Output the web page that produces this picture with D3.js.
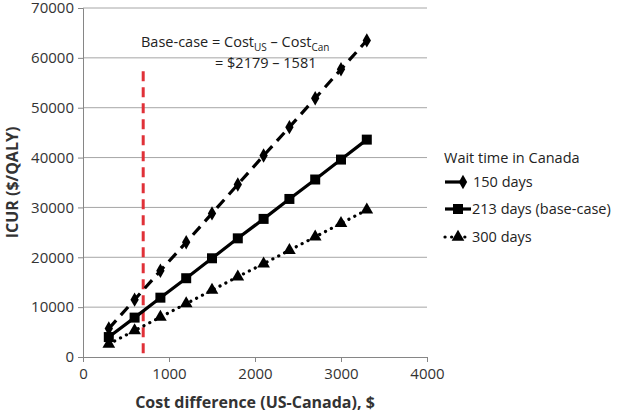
<!DOCTYPE html>
<html>
<head>
<meta charset="utf-8">
<script src="https://cdn.jsdelivr.net/npm/d3@7"></script>
<style>
  body { margin: 0; background: #fff; }
  svg { font-family: "Open Sans", sans-serif; }
</style>
</head>
<body>
<svg id="chart" width="618" height="415"></svg>
<script>
const costDiff = [300, 600, 900, 1200, 1500, 1800, 2100, 2400, 2700, 3000, 3300];
const wait150 = [5700, 11500, 17300, 23000, 28800, 34600, 40400, 46100, 51900, 57700, 63500];
const wait213 = [4000, 7900, 11900, 15800, 19800, 23800, 27700, 31700, 35600, 39600, 43600];
const wait300 = [2600, 5300, 8000, 10700, 13400, 16100, 18700, 21400, 24100, 26800, 29500];
const seriesNames = ["150 days", "213 days (base-case)", "300 days"];
const xTicks = [0, 1000, 2000, 3000, 4000];
const yTicks = [0, 10000, 20000, 30000, 40000, 50000, 60000, 70000];
const baseCaseX = 700;
const baseCaseTop = 57300;

const svg = d3.select("#chart");
const x = d3.scaleLinear().domain([0, 4000]).range([83, 427]);
const y = d3.scaleLinear().domain([0, 70000]).range([357, 8]);

// gridlines
svg.append("g").selectAll("line").data(yTicks.slice(1)).join("line")
  .attr("x1", x(0)).attr("x2", x(4000))
  .attr("y1", d => y(d)).attr("y2", d => y(d))
  .attr("stroke", "#a6a6a6").attr("stroke-width", 1);

const xAxis = svg.append("g").attr("transform", `translate(0,${y(0)})`)
  .call(d3.axisBottom(x).tickValues(xTicks).tickSize(5).tickPadding(6).tickFormat(d3.format("d")));
const yAxis = svg.append("g").attr("transform", `translate(${x(0)},0)`)
  .call(d3.axisLeft(y).tickValues(yTicks).tickSize(5).tickPadding(4).tickFormat(d3.format("d")));
[xAxis, yAxis].forEach(a => {
  a.select(".domain").attr("stroke", "#868686");
  a.selectAll(".tick line").attr("stroke", "#868686");
  a.selectAll(".tick text").attr("fill", "#333").style("font-size", "15px")
    .style("font-family", "'Open Sans', sans-serif");
});

// red base-case line
svg.append("line")
  .attr("x1", x(baseCaseX)).attr("x2", x(baseCaseX))
  .attr("y1", y(baseCaseTop)).attr("y2", y(0))
  .attr("stroke", "#e03138").attr("stroke-width", 3).attr("stroke-dasharray", "10,6");

const series = [
  { name: seriesNames[0], values: wait150, dash: "11,7", cap: "butt", marker: d3.symbolDiamond, size: 60 },
  { name: seriesNames[1], values: wait213, dash: null, cap: "butt", marker: d3.symbolSquare, size: 100 },
  { name: seriesNames[2], values: wait300, dash: "0.1,6.5", cap: "round", marker: d3.symbolTriangle, size: 70 }
];

const line = d3.line().x((d, i) => x(costDiff[i])).y(d => y(d));

series.forEach(s => {
  svg.append("path").datum(s.values)
    .attr("d", line).attr("fill", "none").attr("stroke", "#000")
    .attr("stroke-width", 3.2).attr("stroke-linecap", s.cap)
    .attr("stroke-dasharray", s.dash);
  svg.append("g").selectAll("path").data(s.values).join("path")
    .attr("transform", (d, i) => `translate(${x(costDiff[i])},${y(d)})`)
    .attr("d", d3.symbol().type(s.marker).size(s.size)).attr("fill", "#000");
});

// annotation
const ann = svg.append("text").attr("x", 141).attr("y", 47).attr("fill", "#222").style("font-size", "14.5px");
ann.append("tspan").text("Base-case = Cost");
ann.append("tspan").text("US").attr("dy", 4).style("font-size", "10px");
ann.append("tspan").text(" \u2013 Cost").attr("dy", -4);
ann.append("tspan").text("Can").attr("dy", 4).style("font-size", "10px");
svg.append("text").attr("x", 215).attr("y", 68).attr("fill", "#222").style("font-size", "14.5px")
  .text("= $2179 \u2013 1581");

// legend
const lg = svg.append("g").attr("transform", "translate(443,0)");
lg.append("text").attr("x", 1).attr("y", 163).attr("fill", "#222").style("font-size", "14.5px")
  .text("Wait time in Canada");
const legendY = [182, 209, 237];
series.forEach((s, i) => {
  const g = lg.append("g").attr("transform", `translate(0,${legendY[i]})`);
  g.append("line").attr("x1", 2).attr("x2", i === 0 ? 20 : 28).attr("y1", 0).attr("y2", 0)
    .attr("stroke", "#000").attr("stroke-width", 3.2).attr("stroke-linecap", s.cap)
    .attr("stroke-dasharray", i === 2 ? "0.1,6.5" : null);
  g.append("path").attr("transform", `translate(${i === 0 ? 20 : 15},0)`)
    .attr("d", d3.symbol().type(s.marker).size(s.size)).attr("fill", "#000");
  g.append("text").attr("x", i === 0 ? 30 : 29).attr("y", 5).attr("fill", "#222")
    .style("font-size", "14.5px").text(s.name);
});

// axis titles
svg.append("text").attr("x", 255).attr("y", 408).attr("text-anchor", "middle")
  .attr("fill", "#333").style("font-size", "16px").style("font-weight", "bold")
  .text("Cost difference (US-Canada), $");
svg.append("text").attr("transform", `translate(18,${y(35000)}) rotate(-90)`)
  .attr("text-anchor", "middle").attr("fill", "#333").style("font-size", "16px").style("font-weight", "bold")
  .text("ICUR ($/QALY)");
</script>
</body>
</html>
